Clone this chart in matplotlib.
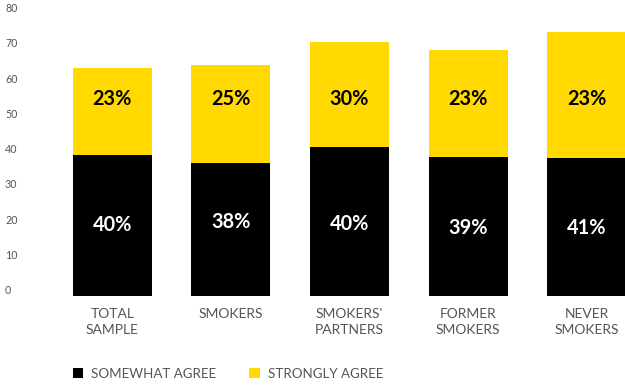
import matplotlib
matplotlib.use("Agg")
import matplotlib.pyplot as plt
from matplotlib.patches import Patch
import numpy as np

plt.rcParams['font.family'] = ['Lato', 'DejaVu Sans']

categories = ["TOTAL\nSAMPLE", "SMOKERS", "SMOKERS'\nPARTNERS", "FORMER\nSMOKERS", "NEVER\nSMOKERS"]
somewhat = [40.1, 37.8, 42.2, 39.4, 39.1]
strongly = [24.6, 27.7, 29.9, 30.4, 35.8]
somewhat_labels = ["40%", "38%", "40%", "39%", "41%"]
strongly_labels = ["23%", "25%", "30%", "23%", "23%"]
y_ticks = [0, 10, 20, 30, 40, 50, 60, 70, 80]

# label layout (data units)
somewhat_label_pos = [20.1, 20.9, 20.3, 19.4, 19.4]
strongly_label_pos = 55.9

W, H = 625, 385
fig = plt.figure(figsize=(W / 100, H / 100), dpi=100)
ax = fig.add_axes([53 / W, (H - 296) / H, 593 / W, 282 / H])

YELLOW = "#FFD900"
x = np.arange(len(categories))
ax.bar(x, somewhat, width=0.667, color="black", label="SOMEWHAT AGREE")
ax.bar(x, strongly, bottom=somewhat, width=0.667, color=YELLOW, label="STRONGLY AGREE")

for i in range(len(categories)):
    ax.text(x[i], somewhat_label_pos[i], somewhat_labels[i], ha="center", va="center",
            color="white", fontsize=14.3, fontweight="bold")
    ax.text(x[i], strongly_label_pos, strongly_labels[i], ha="center", va="center",
            color="black", fontsize=14.3, fontweight="bold")

ax.set_xlim(-0.5, 4.5)
ax.set_ylim(0, 80)
for s in ax.spines.values():
    s.set_visible(False)
ax.set_yticks([])
ax.set_xticks(x)
ax.set_xticklabels(categories, fontsize=10, color="#555555", linespacing=1.3)
ax.tick_params(axis="x", length=0, pad=9)

ytrans = matplotlib.transforms.blended_transform_factory(fig.transFigure, ax.transData)
for t in y_ticks:
    ax.text(5 / W, t + 0.5, str(t), transform=ytrans, ha="left", va="baseline",
            fontsize=7.7, color="#555555", clip_on=False)

handles = [Patch(facecolor="black"), Patch(facecolor=YELLOW)]
fig.legend(handles, ["SOMEWHAT AGREE", "STRONGLY AGREE"], loc="center left",
           bbox_to_anchor=(66 / W, 1 - 374 / H), ncol=2, frameon=False,
           handlelength=0.8, handleheight=0.8, handletextpad=0.6,
           columnspacing=2.45, fontsize=9.6, labelcolor="#555555", borderpad=0)

fig.savefig("out.png", dpi=100)
